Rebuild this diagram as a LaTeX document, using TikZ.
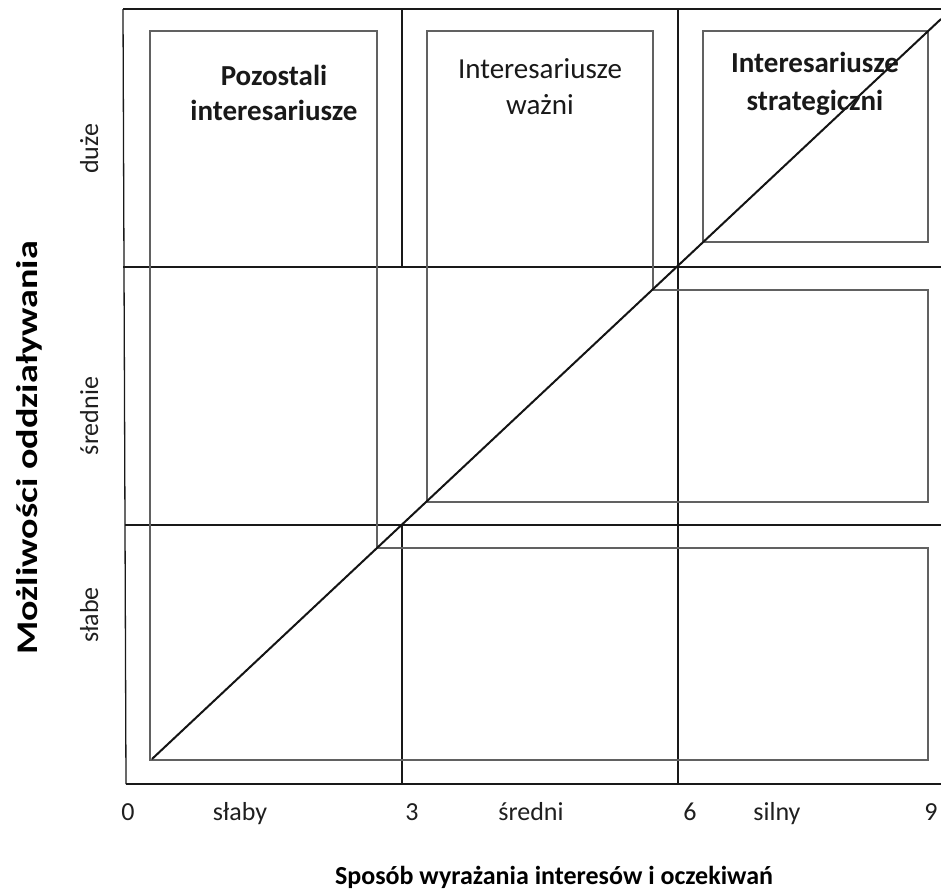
\documentclass[tikz,border=0pt]{standalone}
\usepackage{fontspec}
\setmainfont{Carlito}
\begin{document}
\begin{tikzpicture}[x=1pt,y=-1pt,
  grid/.style={line width=1.3pt, draw=black!90},
  zone/.style={line width=1.9pt, draw=black!62},
  diag/.style={line width=2pt, draw=black!92},
  zonetitle/.style={align=center, inner sep=0pt, anchor=north, text=black!90},
  axisval/.style={font=\fontsize{26}{30}\selectfont, anchor=base, inner sep=0pt, text=black!88},
  levelval/.style={font=\fontsize{26}{30}\selectfont, anchor=base, inner sep=0pt, rotate=90, text=black!88},
  axistitle/.style={font=\bfseries\fontsize{26}{30}\selectfont, anchor=base, inner sep=0pt}
]
\useasboundingbox[fill=white] (0,0) rectangle (941,889);

% grid of the 3x3 matrix
\draw[grid] (123,9) -- (941,9);
\draw[grid] (123,9) -- (126,784);
\draw[grid] (123,267) -- (941,267);
\draw[grid] (125,525) -- (941,525);
\draw[grid] (126,784) -- (941,784);
\draw[grid] (402,9) -- (402,267);
\draw[grid] (402,525) -- (402,784);
\draw[grid] (678,9) -- (678,784);

% stakeholder zones
\draw[zone] (150,31) -- (377,31) -- (377,548) -- (928,548) -- (928,760) -- (150,760) -- cycle;
\draw[zone] (427,31) -- (653,31) -- (653,290) -- (928,290) -- (928,502) -- (427,502) -- cycle;
\draw[zone] (703,31) rectangle (928,242);

% diagonal
\coordinate (d0) at (152,759);
\coordinate (d1) at (941,19);
\draw[diag] (d0) -- (d1);

% zone titles
\node[zonetitle, font=\bfseries\fontsize{29}{34.5}\selectfont] (pozostali) at (274,65) {Pozostali\\interesariusze};
\node[zonetitle, font=\fontsize{29}{36}\selectfont] (wazni) at (540,58) {Interesariusze\\ważni};
\node[zonetitle, font=\bfseries\fontsize{29}{38}\selectfont] (strat) at (815,52) {Interesariusze\\strategiczni};

% horizontal axis values
\node[axisval] (x0) at (128,820) {0};
\node[axisval] (xslaby) at (240,820) {słaby};
\node[axisval] (x3) at (412,820) {3};
\node[axisval] (xsredni) at (531,820) {średni};
\node[axisval] (x6) at (690,820) {6};
\node[axisval] (xsilny) at (777,820) {silny};
\node[axisval] (x9) at (931,820) {9};
\node[axistitle] (xtitle) at (554,884) {Sposób wyrażania interesów i oczekiwań};

% vertical axis values
\node[levelval] (yduze) at (98,149) {duże};
\node[levelval] (ysrednie) at (98,416) {średnie};
\node[levelval] (yslabe) at (98,615) {słabe};
\node[axistitle, rotate=90, font=\bfseries\fontsize{30}{34}\selectfont] (ytitle) at (37,448) {\scalebox{1.27}[1]{Możliwości oddziaływania}};
\end{tikzpicture}
\end{document}
